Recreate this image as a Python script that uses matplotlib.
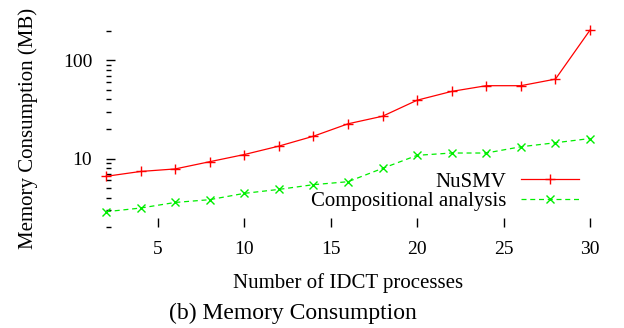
import matplotlib
matplotlib.use("Agg")
import matplotlib.pyplot as plt
from matplotlib.ticker import LogLocator, NullFormatter, FixedLocator, FixedFormatter

plt.rcParams['font.family'] = ['Liberation Serif', 'DejaVu Serif']

processes = [2, 4, 6, 8, 10, 12, 14, 16, 18, 20, 22, 24, 26, 28, 30]
nusmv = [6.6, 7.4, 7.85, 9.3, 11.0, 13.4, 16.9, 22.6, 27.0, 39.3, 48.3, 55.2, 55.2, 64.4, 203.0]
compositional = [2.88, 3.14, 3.58, 3.82, 4.43, 4.86, 5.43, 5.82, 7.96, 10.8, 11.4, 11.4, 13.2, 14.5, 16.0]
x_ticks = [5, 10, 15, 20, 25, 30]
y_ticks = [10, 100]
y_tick_labels = ["10", "100"]

W, H = 624, 328
fig = plt.figure(figsize=(W / 100, H / 100), dpi=100)
left, right, top, bottom = 106, 590, 29.7, 227.3
ax = fig.add_axes([left / W, 1 - bottom / H, (right - left) / W, (bottom - top) / H])

ax.plot(processes, nusmv, color='#ff0000', lw=0.9, marker='+', ms=7, mew=1.0,
        label='NuSMV', clip_on=False)
ax.plot(processes, compositional, color='#00ee00', lw=0.9, ls=(0, (4, 3)), marker='x',
        ms=6, mew=1.0, label='Compositional analysis', clip_on=False)

ax.set_yscale('log')
ax.set_xlim(2, 30)
ax.set_ylim(2, 205)
ax.xaxis.set_major_locator(FixedLocator(x_ticks))
ax.yaxis.set_major_locator(FixedLocator(y_ticks))
ax.yaxis.set_major_formatter(FixedFormatter(y_tick_labels))
ax.yaxis.set_minor_locator(LogLocator(base=10, subs=[2, 3, 4, 5, 6, 7, 8, 9]))
ax.yaxis.set_minor_formatter(NullFormatter())

for s in ax.spines.values():
    s.set_visible(False)
ax.tick_params(axis='both', which='major', direction='in', length=6.5, width=1.0,
               labelsize=14, pad=10, top=False, right=False)
ax.tick_params(axis='y', which='minor', direction='in', length=3.5, width=1.0,
               right=False)

ax.set_xlabel('Number of IDCT processes', fontsize=15, labelpad=11)
ax.set_ylabel('Memory Consumption (MB)', fontsize=15, labelpad=18)

leg = ax.legend(loc='upper right',
                bbox_to_anchor=((579 - left) / (right - left), 1 - (172 - top) / (bottom - top)),
                frameon=False, markerfirst=False, fontsize=15, handlelength=2.8,
                handletextpad=0.7, labelspacing=0.0, borderaxespad=0.0, borderpad=0.0)

fig.text(293 / W, 1 - 313 / H, '(b) Memory Consumption', ha='center', va='center', fontsize=17)

fig.savefig('out.png', dpi=100)
